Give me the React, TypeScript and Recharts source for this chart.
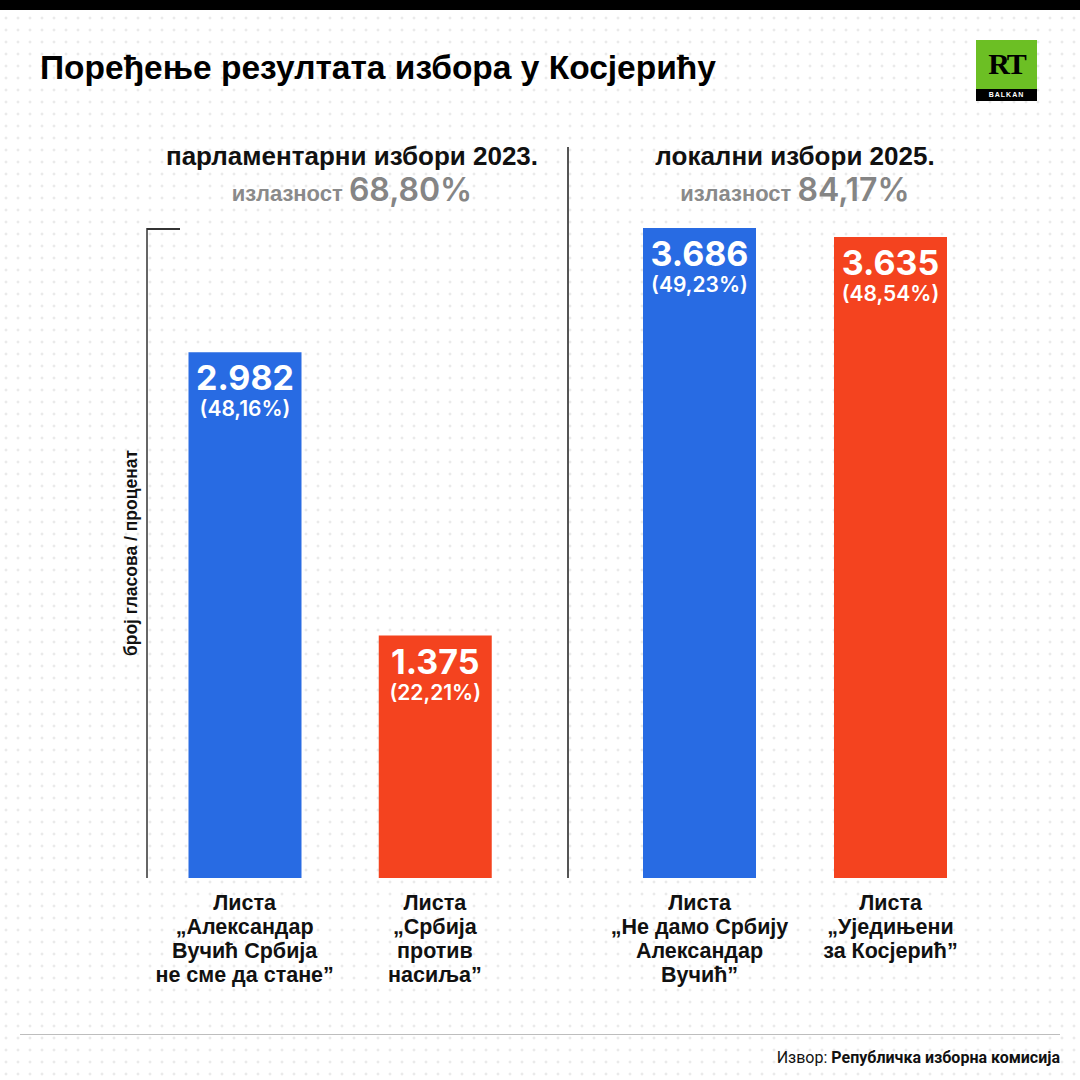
import { BarChart, Bar, XAxis, YAxis, Cell, LabelList } from "recharts";

const leftLists = [
  ["Листа", "„Александар", "Вучић Србија", "не сме да стане”"],
  ["Листа", "„Србија", "против", "насиља”"],
];
const leftVotes = [2982, 1375];
const leftShares = ["48,16%", "22,21%"];

const rightLists = [
  ["Листа", "„Не дамо Србију", "Александар", "Вучић”"],
  ["Листа", "„Уједињени", "за Косјерић”"],
];
const rightVotes = [3686, 3635];
const rightShares = ["49,23%", "48,54%"];

const barColors = ["#286be3", "#f4431f"];
const yMax = 3686;

const numFont = "Inter, 'Noto Sans', sans-serif";
const textFont = "'Liberation Sans', Arial, sans-serif";

const fmt = (v: number) => v.toString().replace(/\B(?=(\d{3})+(?!\d))/g, ".");

const bgPattern =
  "url(\"data:image/svg+xml;utf8,<svg xmlns='http://www.w3.org/2000/svg' width='12' height='12'><path d='M6 4.5v3M4.5 6h3' stroke='%23dedede' stroke-width='0.8'/></svg>\")";

function makeTick(lists: string[][]) {
  return (props: any) => {
    const { x, y, index } = props;
    const lines = lists[index] || [];
    return (
      <text x={x} y={y + 24} textAnchor="middle" fill="#111" fontFamily={textFont} fontWeight={700} fontSize={21.5}>
        {lines.map((l, i) => (
          <tspan key={i} x={x} dy={i === 0 ? 0 : 24}>
            {l}
          </tspan>
        ))}
      </text>
    );
  };
}

function makeLabel(shares: string[]) {
  return (props: any) => {
    const { x, y, width, value, index } = props;
    const cx = x + width / 2;
    return (
      <g>
        <text x={cx} y={y + 38} textAnchor="middle" fill="#fff" fontFamily={numFont} fontWeight={700} fontSize={34}>
          {fmt(value)}
        </text>
        <text x={cx} y={y + 64} textAnchor="middle" fill="#fff" fontFamily={numFont} fontWeight={600} fontSize={21}>
          ({shares[index]})
        </text>
      </g>
    );
  };
}

function Header({ cx, title, turnout }: { cx: number; title: string; turnout: string }) {
  return (
    <div style={{ position: "absolute", left: cx - 250, top: 140, width: 500, textAlign: "center" }}>
      <div style={{ fontFamily: textFont, fontWeight: 700, fontSize: 26, color: "#111", lineHeight: "32px" }}>
        {title}
      </div>
      <div style={{ marginTop: -2, lineHeight: "40px" }}>
        <span style={{ fontFamily: textFont, fontWeight: 700, fontSize: 22, color: "#8a8a8a" }}>излазност </span>
        <span style={{ fontFamily: numFont, fontWeight: 600, fontSize: 32, color: "#858585" }}>{turnout}</span>
      </div>
    </div>
  );
}

export default function App() {
  const leftData = leftVotes.map((v, i) => ({ name: i, votes: v }));
  const rightData = rightVotes.map((v, i) => ({ name: i, votes: v }));

  return (
    <div
      style={{
        position: "absolute",
        left: 0,
        top: 0,
        width: 1080,
        height: 1080,
        background: "#fff",
        backgroundImage: bgPattern,
        overflow: "hidden",
      }}
    >
      <div style={{ position: "absolute", left: 0, top: 0, width: 1080, height: 10, background: "#000" }} />
      <div
        style={{
          position: "absolute",
          left: 40,
          top: 48,
          fontFamily: textFont,
          fontWeight: 700,
          fontSize: 33.5,
          lineHeight: "40px",
          color: "#000",
          whiteSpace: "nowrap",
        }}
      >
        Поређење резултата избора у Косјерићу
      </div>

      {/* logo */}
      <div style={{ position: "absolute", left: 976, top: 40, width: 61, height: 61, background: "#6cbf24" }}>
        <div
          style={{
            position: "absolute",
            left: 0,
            top: 10,
            width: 61,
            textAlign: "center",
            fontFamily: "'Liberation Serif', serif",
            fontWeight: 900,
            fontSize: 30,
            lineHeight: "28px",
            color: "#000",
            letterSpacing: -2,
          }}
        >
          RT
        </div>
        <div
          style={{
            position: "absolute",
            left: 0,
            top: 49,
            width: 61,
            height: 12,
            background: "#000",
            color: "#fff",
            fontFamily: textFont,
            fontWeight: 700,
            fontSize: 7,
            lineHeight: "12px",
            textAlign: "center",
            letterSpacing: 1,
          }}
        >
          BALKAN
        </div>
      </div>

      <Header cx={352} title="парламентарни избори 2023." turnout="68,80%" />
      <Header cx={795} title="локални избори 2025." turnout="84,17%" />

      {/* divider */}
      <div style={{ position: "absolute", left: 567, top: 147, width: 1.5, height: 731, background: "#555" }} />
      {/* axis top tick */}
      <div style={{ position: "absolute", left: 147, top: 228, width: 33, height: 1.5, background: "#333" }} />

      <div style={{ position: "absolute", left: 100, top: 228 }}>
        <BarChart width={430} height={770} data={leftData} margin={{ top: 0, right: 0, bottom: 0, left: 0 }} barSize={113}>
          <XAxis
            dataKey="name"
            axisLine={false}
            tickLine={false}
            height={120}
            padding={{ left: 2.5, right: 0 }}
            tick={makeTick(leftLists)}
            interval={0}
          />
          <YAxis
            domain={[0, yMax]}
            width={47}
            tick={false}
            tickLine={false}
            axisLine={{ stroke: "#333", strokeWidth: 1.5 }}
            label={{
              value: "број гласова / проценат",
              angle: -90,
              position: "center",
              dx: 7,
              fill: "#111",
              fontFamily: textFont,
              fontWeight: 700,
              fontSize: 17.5,
            }}
          />
          <Bar dataKey="votes" isAnimationActive={false}>
            {leftData.map((_, i) => (
              <Cell key={i} fill={barColors[i]} />
            ))}
            <LabelList dataKey="votes" content={makeLabel(leftShares)} />
          </Bar>
        </BarChart>
      </div>

      <div style={{ position: "absolute", left: 604, top: 228 }}>
        <BarChart width={382} height={770} data={rightData} margin={{ top: 0, right: 0, bottom: 0, left: 0 }} barSize={113}>
          <XAxis
            dataKey="name"
            axisLine={false}
            tickLine={false}
            height={120}
            tick={makeTick(rightLists)}
            interval={0}
          />
          <YAxis domain={[0, yMax]} hide />
          <Bar dataKey="votes" isAnimationActive={false}>
            {rightData.map((_, i) => (
              <Cell key={i} fill={barColors[i]} />
            ))}
            <LabelList dataKey="votes" content={makeLabel(rightShares)} />
          </Bar>
        </BarChart>
      </div>

      {/* footer */}
      <div style={{ position: "absolute", left: 20, top: 1034, width: 1040, height: 1, background: "#bdbdbd" }} />
      <div
        style={{
          position: "absolute",
          right: 20,
          top: 1048,
          fontFamily: "Roboto, sans-serif",
          fontSize: 16,
          color: "#111",
          whiteSpace: "nowrap",
        }}
      >
        Извор: <span style={{ fontWeight: 700 }}>Републичка изборна комисија</span>
      </div>
    </div>
  );
}
